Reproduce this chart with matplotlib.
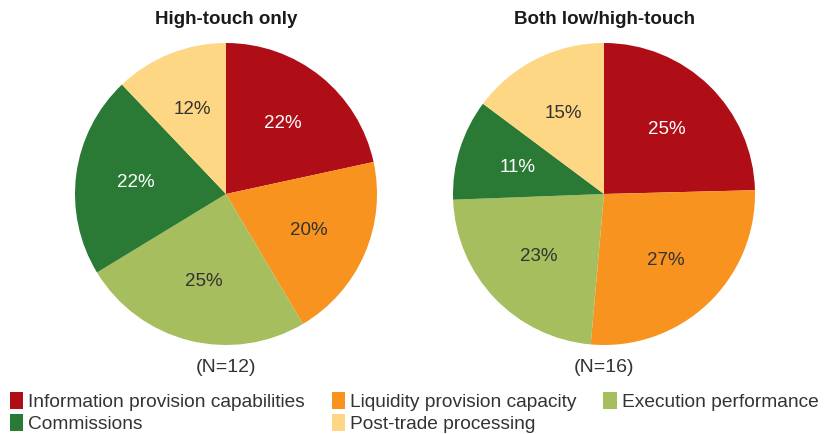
import matplotlib
matplotlib.use("Agg")
import matplotlib.pyplot as plt
from matplotlib.patches import Patch

plt.rcParams['font.family'] = ['Liberation Sans', 'DejaVu Sans']

categories = ["Information provision capabilities", "Liquidity provision capacity",
              "Execution performance", "Commissions", "Post-trade processing"]
colors = ["#B00E16", "#F7931E", "#A6BE5E", "#2A7A35", "#FDD784"]
text_colors = ["white", "#333333", "#333333", "white", "#333333"]

titles = ["High-touch only", "Both low/high-touch"]
n_labels = ["(N=12)", "(N=16)"]
high_touch = [21.6, 19.9, 24.8, 21.6, 12.1]
high_touch_labels = ["22%", "20%", "25%", "22%", "12%"]
both = [24.6, 26.8, 23.0, 10.8, 14.8]
both_labels = ["25%", "27%", "23%", "11%", "15%"]

W, H = 827, 434
fig = plt.figure(figsize=(W / 100, H / 100), dpi=100)

def draw(cx, cy, r, vals, labels, title, nlab):
    ax = fig.add_axes([(cx - r) / W, 1 - (cy + r) / H, 2 * r / W, 2 * r / H])
    wedges, texts = ax.pie(vals, colors=colors, startangle=90, counterclock=False,
                           radius=1, labels=labels, labeldistance=0.6,
                           wedgeprops=dict(linewidth=0))
    for t, c in zip(texts, text_colors):
        t.set_color(c)
        t.set_fontsize(13.5)
        t.set_ha('center')
        t.set_va('center')
    ax.set_xlim(-1, 1)
    ax.set_ylim(-1, 1)
    ax.set_aspect('auto')
    ax.axis('off')
    fig.text(cx / W, 1 - 20 / H, title, ha='center', va='center', fontsize=13.5,
             fontweight='bold', color='#1a1a1a')
    fig.text(cx / W, 1 - 368 / H, nlab, ha='center', va='center', fontsize=14, color='#333333')

draw(226, 194, 151, high_touch, high_touch_labels, titles[0], n_labels[0])
draw(604, 194, 151, both, both_labels, titles[1], n_labels[1])

order = [0, 3, 1, 4, 2]
handles = [Patch(facecolor=colors[i], edgecolor='none', label=categories[i]) for i in order]
leg = fig.legend(handles=handles, ncol=3, loc='upper left',
                 bbox_to_anchor=(10 / W, 1 - 392 / H), frameon=False, fontsize=13.8,
                 handlelength=0.7, handleheight=1.0, handletextpad=0.25,
                 columnspacing=1.4, labelspacing=0.15, borderpad=0, borderaxespad=0)
for t in leg.get_texts():
    t.set_color('#333333')

fig.savefig("out.png", dpi=100)
